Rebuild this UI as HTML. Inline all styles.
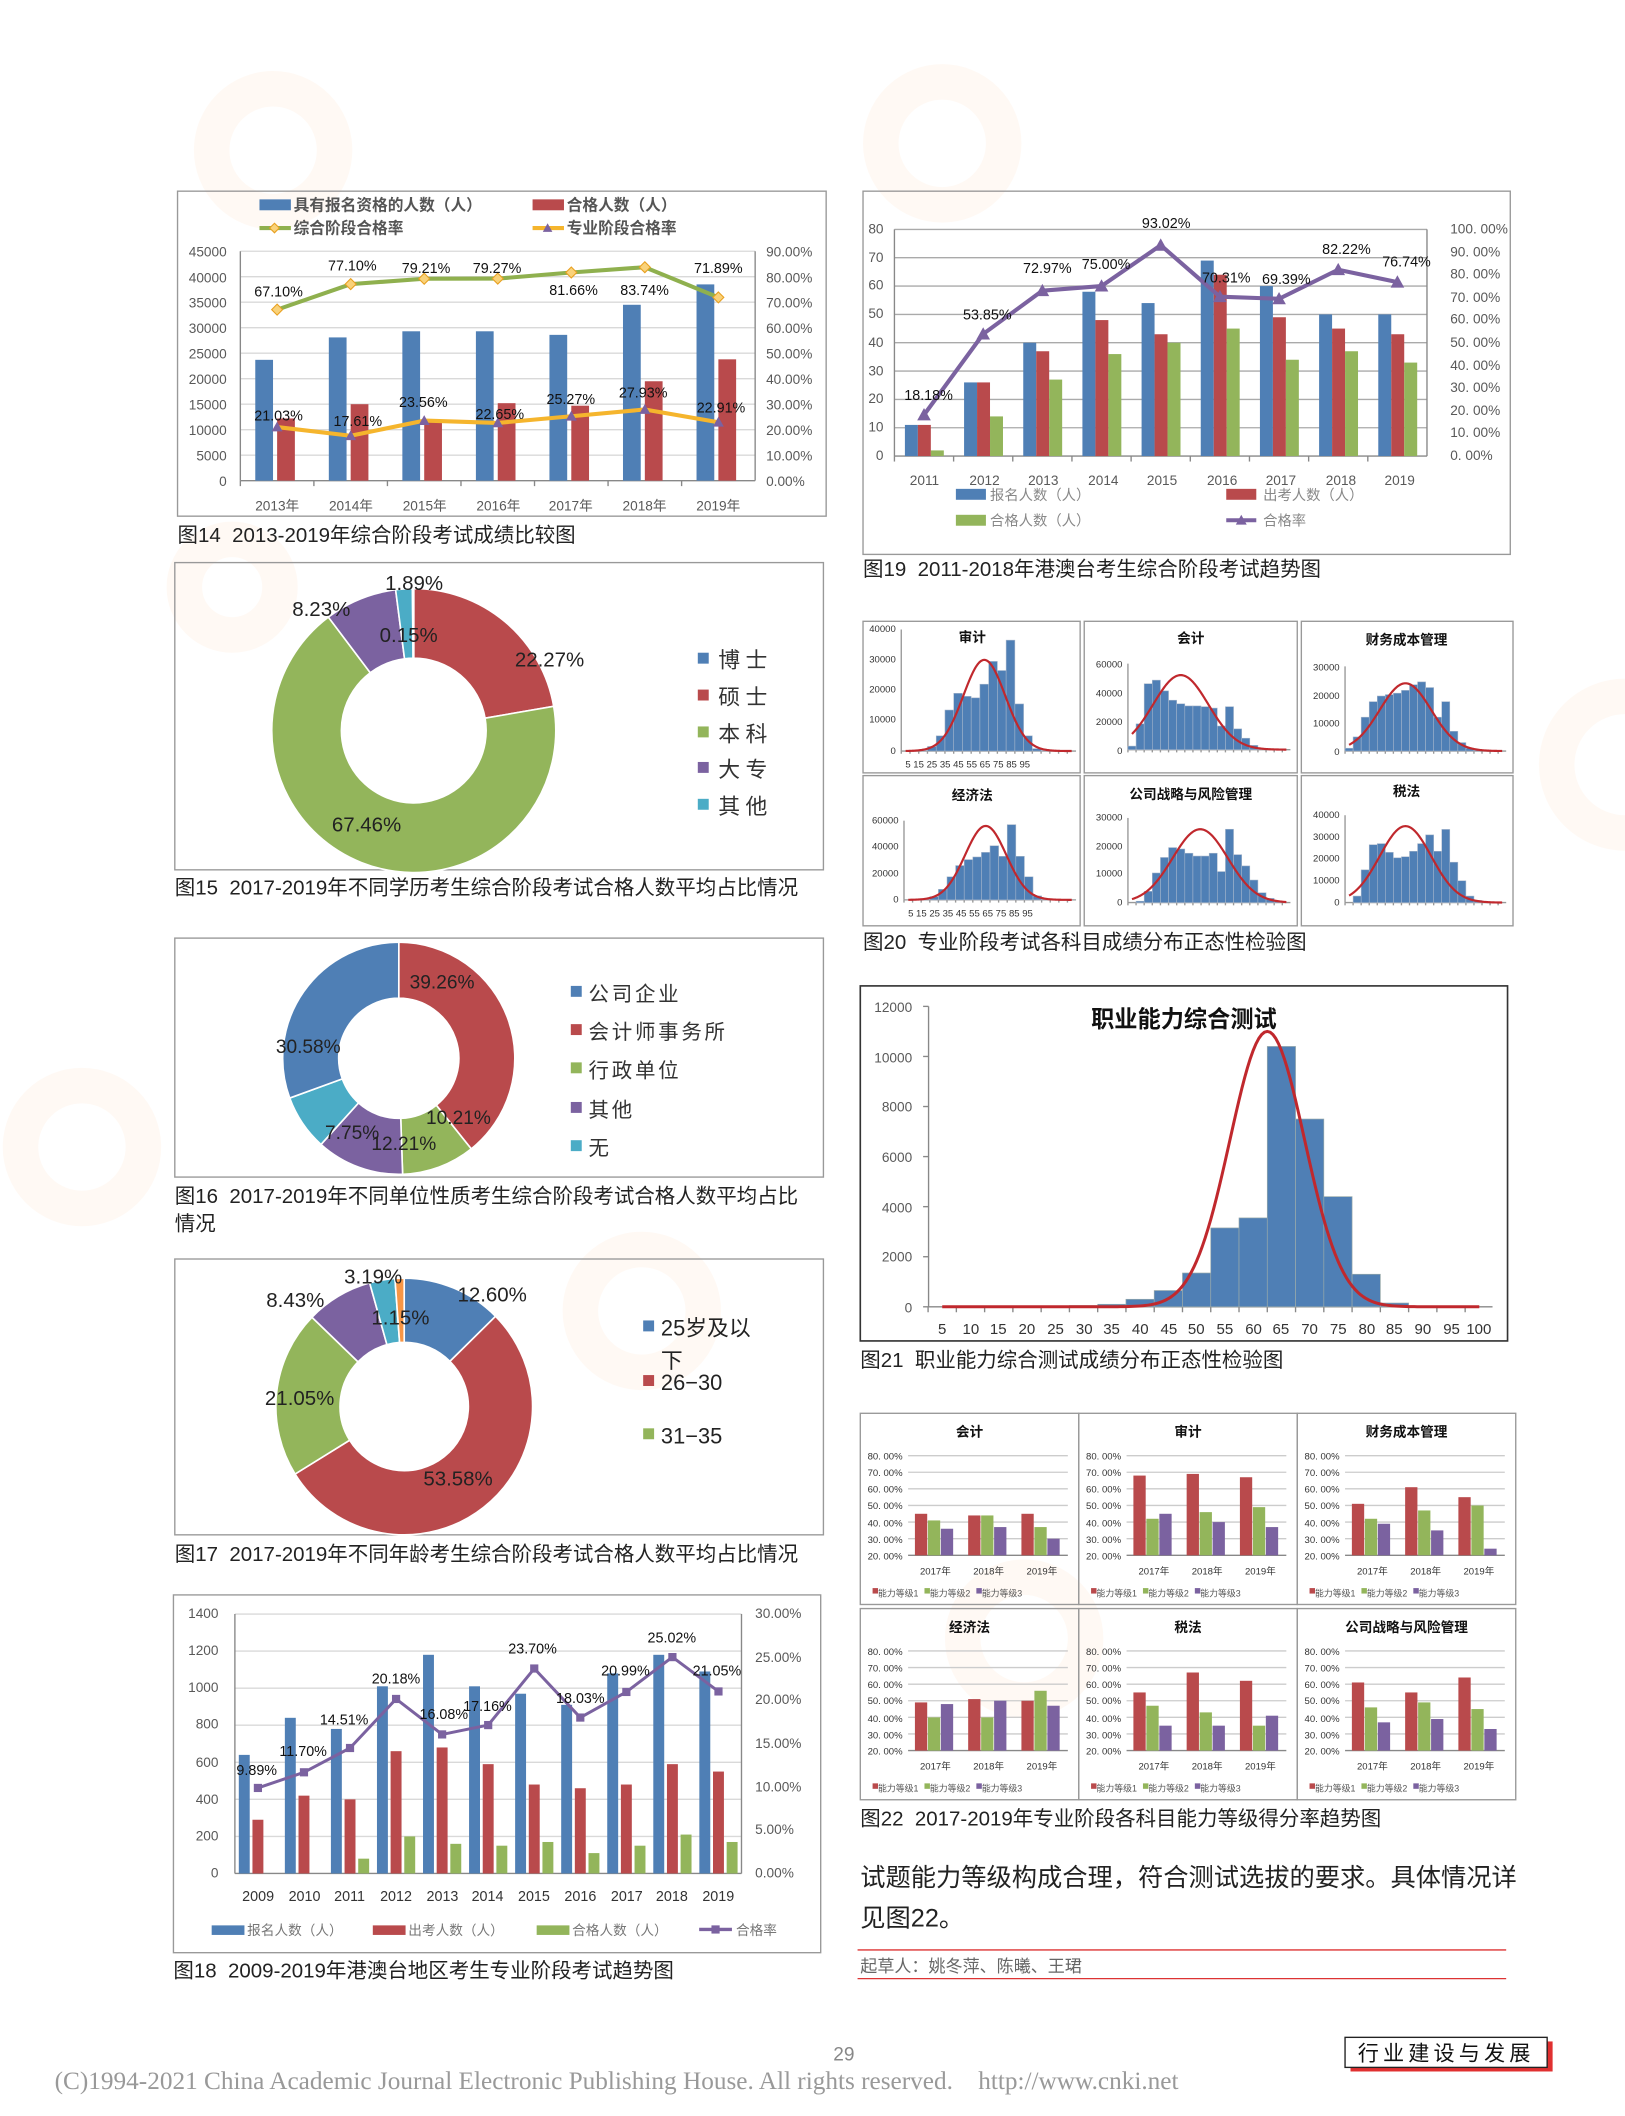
<!DOCTYPE html>
<html><head><meta charset="utf-8">
<style>
html,body{margin:0;padding:0;background:#fff;}
svg{display:block;}
text{font-family:"Liberation Sans","Noto Sans CJK SC",sans-serif;}
.t{font-size:10px;fill:#595959;}
.cap{font-size:15px;fill:#222;font-family:"Liberation Sans","Noto Sans CJK SC",sans-serif;white-space:pre;}
.lb{font-size:10.5px;fill:#111;}
.sm{font-size:7px;fill:#333;}
.ti{font-size:10px;font-weight:bold;fill:#111;font-family:"Noto Serif CJK SC","Noto Sans CJK SC",sans-serif;}
.srf{font-family:"Noto Serif CJK SC","Noto Sans CJK SC",serif;}
</style></head><body>
<svg id="s" xmlns="http://www.w3.org/2000/svg" width="1625" height="2116" viewBox="0 0 1190 1549.6">
<g opacity="0.06" fill="none" stroke="#f79646" stroke-width="26">
<circle cx="200" cy="110" r="45"/><circle cx="690" cy="105" r="45"/><circle cx="470" cy="960" r="45"/><circle cx="170" cy="430" r="35"/><circle cx="1190" cy="560" r="50"/><circle cx="60" cy="840" r="45"/><circle cx="750" cy="1200" r="45"/>
</g>
<g fill="none" stroke="#999" stroke-width="1">
<rect x="130" y="140" width="475" height="238"/>
<rect x="128" y="412" width="475" height="225"/>
<rect x="128" y="687" width="475" height="175"/>
<rect x="128" y="922" width="475" height="202"/>
<rect x="127" y="1168" width="474" height="262"/>
<rect x="632" y="140" width="474" height="266"/>
<rect x="632" y="455" width="159" height="111"/><rect x="794" y="455" width="156" height="111"/><rect x="953" y="455" width="155" height="111"/>
<rect x="632" y="568" width="159" height="110"/><rect x="794" y="568" width="156" height="110"/><rect x="953" y="568" width="155" height="110"/>
<rect x="630" y="1035" width="160" height="140"/><rect x="790" y="1035" width="160" height="140"/><rect x="950" y="1035" width="160" height="140"/>
<rect x="630" y="1178" width="160" height="140"/><rect x="790" y="1178" width="160" height="140"/><rect x="950" y="1178" width="160" height="140"/>
</g>
<rect x="630" y="722" width="474" height="260" fill="none" stroke="#333" stroke-width="1.2"/>
<g id="g"></g>

<g class="t" text-anchor="end">
<text x="166" y="356">0</text><text x="166" y="337.3">5000</text><text x="166" y="318.7">10000</text><text x="166" y="300">15000</text><text x="166" y="281.3">20000</text><text x="166" y="262.7">25000</text><text x="166" y="244">30000</text><text x="166" y="225.3">35000</text><text x="166" y="206.7">40000</text><text x="166" y="188">45000</text>
</g>
<g class="t">
<text x="561" y="356">0.00%</text><text x="561" y="337.3">10.00%</text><text x="561" y="318.7">20.00%</text><text x="561" y="300">30.00%</text><text x="561" y="281.3">40.00%</text><text x="561" y="262.7">50.00%</text><text x="561" y="244">60.00%</text><text x="561" y="225.3">70.00%</text><text x="561" y="206.7">80.00%</text><text x="561" y="188">90.00%</text>
</g>
<g class="t" text-anchor="middle" fill="#777">
<text x="203" y="374">2013年</text><text x="257" y="374">2014年</text><text x="311" y="374">2015年</text><text x="365" y="374">2016年</text><text x="418" y="374">2017年</text><text x="472" y="374">2018年</text><text x="526" y="374">2019年</text>
</g>
<g class="lb" text-anchor="middle">
<text x="204" y="217">67.10%</text><text x="258" y="198">77.10%</text><text x="312" y="200">79.21%</text><text x="364" y="200">79.27%</text><text x="420" y="216">81.66%</text><text x="472" y="216">83.74%</text><text x="526" y="200">71.89%</text>
<text x="204" y="308">21.03%</text><text x="262" y="312">17.61%</text><text x="310" y="298">23.56%</text><text x="366" y="307">22.65%</text><text x="418" y="296">25.27%</text><text x="471" y="291">27.93%</text><text x="528" y="302">22.91%</text>
</g>
<g class="srf" font-size="11.5" font-weight="bold" fill="#555">
<text x="215" y="154">具有报名资格的人数（人）</text><text x="415" y="154">合格人数（人）</text>
<text x="215" y="171">综合阶段合格率</text><text x="415" y="171">专业阶段合格率</text>
</g>
<text class="cap" x="130" y="397">图14  2013-2019年综合阶段考试成绩比较图</text>

<g font-size="15" fill="#222">
<text x="282" y="432">1.89%</text><text x="214" y="451">8.23%</text><text x="278" y="470">0.15%</text><text x="377" y="488">22.27%</text><text x="243" y="609">67.46%</text>
</g>
<g class="srf" font-size="16" fill="#333" letter-spacing="4">
<text x="526" y="489">博士</text><text x="526" y="516">硕士</text><text x="526" y="543">本科</text><text x="526" y="569">大专</text><text x="526" y="596">其他</text>
</g>
<text class="cap" x="128" y="655">图15  2017-2019年不同学历考生综合阶段考试合格人数平均占比情况</text>

<g font-size="14" fill="#222">
<text x="300" y="724">39.26%</text><text x="202" y="771">30.58%</text><text x="312" y="823">10.21%</text><text x="238" y="834">7.75%</text><text x="272" y="842">12.21%</text>
</g>
<g class="srf" font-size="15" fill="#333" letter-spacing="2">
<text x="431" y="733">公司企业</text><text x="431" y="761">会计师事务所</text><text x="431" y="789">行政单位</text><text x="431" y="818">其他</text><text x="431" y="846">无</text>
</g>
<text class="cap" x="128" y="881">图16  2017-2019年不同单位性质考生综合阶段考试合格人数平均占比</text>
<text class="cap" x="128" y="901">情况</text>

<g font-size="15" fill="#222">
<text x="252" y="940">3.19%</text><text x="195" y="957">8.43%</text><text x="335" y="953">12.60%</text><text x="272" y="970">1.15%</text><text x="194" y="1029">21.05%</text><text x="310" y="1088">53.58%</text>
</g>
<g font-size="16" fill="#222">
<text x="484" y="978">25岁及以</text><text x="484" y="1002">下</text><text x="484" y="1018">26−30</text><text x="484" y="1057">31−35</text>
</g>
<text class="cap" x="128" y="1143">图17  2017-2019年不同年龄考生综合阶段考试合格人数平均占比情况</text>

<g class="t" text-anchor="end">
<text x="160" y="1375">0</text><text x="160" y="1348">200</text><text x="160" y="1321">400</text><text x="160" y="1294">600</text><text x="160" y="1266">800</text><text x="160" y="1239">1000</text><text x="160" y="1212">1200</text><text x="160" y="1185">1400</text>
</g>
<g class="t">
<text x="553" y="1375">0.00%</text><text x="553" y="1343">5.00%</text><text x="553" y="1312">10.00%</text><text x="553" y="1280">15.00%</text><text x="553" y="1248">20.00%</text><text x="553" y="1217">25.00%</text><text x="553" y="1185">30.00%</text>
</g>
<g font-size="10.5" fill="#333" text-anchor="middle">
<text x="189" y="1392">2009</text><text x="223" y="1392">2010</text><text x="256" y="1392">2011</text><text x="290" y="1392">2012</text><text x="324" y="1392">2013</text><text x="357" y="1392">2014</text><text x="391" y="1392">2015</text><text x="425" y="1392">2016</text><text x="459" y="1392">2017</text><text x="492" y="1392">2018</text><text x="526" y="1392">2019</text>
</g>
<g class="lb" text-anchor="middle">
<text x="188" y="1300">9.89%</text><text x="222" y="1286">11.70%</text><text x="252" y="1263">14.51%</text><text x="290" y="1233">20.18%</text><text x="325" y="1259">16.08%</text><text x="357" y="1253">17.16%</text><text x="390" y="1211">23.70%</text><text x="425" y="1247">18.03%</text><text x="458" y="1227">20.99%</text><text x="492" y="1203">25.02%</text><text x="525" y="1227">21.05%</text>
</g>
<g class="srf" font-size="10" fill="#777">
<text x="181" y="1417">报名人数（人）</text><text x="299" y="1417">出考人数（人）</text><text x="419" y="1417">合格人数（人）</text><text x="539" y="1417">合格率</text>
</g>
<text class="cap" x="127" y="1448">图18  2009-2019年港澳台地区考生专业阶段考试趋势图</text>

<g class="t" text-anchor="end">
<text x="647" y="337">0</text><text x="647" y="316">10</text><text x="647" y="295">20</text><text x="647" y="275">30</text><text x="647" y="254">40</text><text x="647" y="233">50</text><text x="647" y="212">60</text><text x="647" y="192">70</text><text x="647" y="171">80</text>
</g>
<g class="t">
<text x="1062" y="337">0. 00%</text><text x="1062" y="320">10. 00%</text><text x="1062" y="304">20. 00%</text><text x="1062" y="287">30. 00%</text><text x="1062" y="271">40. 00%</text><text x="1062" y="254">50. 00%</text><text x="1062" y="237">60. 00%</text><text x="1062" y="221">70. 00%</text><text x="1062" y="204">80. 00%</text><text x="1062" y="188">90. 00%</text><text x="1062" y="171">100. 00%</text>
</g>
<g class="t" text-anchor="middle" fill="#777" font-size="10.5">
<text x="677" y="355">2011</text><text x="721" y="355">2012</text><text x="764" y="355">2013</text><text x="808" y="355">2014</text><text x="851" y="355">2015</text><text x="895" y="355">2016</text><text x="938" y="355">2017</text><text x="982" y="355">2018</text><text x="1025" y="355">2019</text>
</g>
<g class="lb" text-anchor="middle">
<text x="680" y="293">18.18%</text><text x="723" y="234">53.85%</text><text x="767" y="200">72.97%</text><text x="810" y="197">75.00%</text><text x="854" y="167">93.02%</text><text x="898" y="207">70.31%</text><text x="942" y="208">69.39%</text><text x="986" y="186">82.22%</text><text x="1030" y="195">76.74%</text>
</g>
<g class="srf" font-size="10.5" fill="#888">
<text x="725" y="366">报名人数（人）</text><text x="925" y="366">出考人数（人）</text><text x="725" y="385">合格人数（人）</text><text x="925" y="385">合格率</text>
</g>
<text class="cap" x="632" y="422">图19  2011-2018年港澳台考生综合阶段考试趋势图</text>

<g class="ti" text-anchor="middle">
<text x="712" y="470">审计</text><text x="872" y="471">会计</text><text x="1030" y="472">财务成本管理</text>
<text x="712" y="586">经济法</text><text x="872" y="585">公司战略与风险管理</text><text x="1030" y="583">税法</text>
</g>
<g class="sm" text-anchor="end">
<text x="656" y="463">40000</text><text x="656" y="485">30000</text><text x="656" y="507">20000</text><text x="656" y="529">10000</text><text x="656" y="552">0</text>
<text x="822" y="489">60000</text><text x="822" y="510">40000</text><text x="822" y="531">20000</text><text x="822" y="552">0</text>
<text x="981" y="491">30000</text><text x="981" y="512">20000</text><text x="981" y="532">10000</text><text x="981" y="553">0</text>
<text x="658" y="603">60000</text><text x="658" y="622">40000</text><text x="658" y="642">20000</text><text x="658" y="661">0</text>
<text x="822" y="601">30000</text><text x="822" y="622">20000</text><text x="822" y="642">10000</text><text x="822" y="663">0</text>
<text x="981" y="599">40000</text><text x="981" y="615">30000</text><text x="981" y="631">20000</text><text x="981" y="647">10000</text><text x="981" y="663">0</text>
</g>
<g class="sm" xml:space="preserve">
<text x="663" y="562">5  15  25  35  45  55  65  75  85  95</text>
<text x="665" y="671">5  15  25  35  45  55  65  75  85  95</text>
</g>
<text class="cap" x="632" y="695">图20  专业阶段考试各科目成绩分布正态性检验图</text>

<text x="867" y="752" text-anchor="middle" font-size="17" font-weight="bold" fill="#111">职业能力综合测试</text>
<g class="t" font-size="11" fill="#333" text-anchor="end">
<text x="668" y="961">0</text><text x="668" y="924">2000</text><text x="668" y="888">4000</text><text x="668" y="851">6000</text><text x="668" y="814">8000</text><text x="668" y="778">10000</text><text x="668" y="741">12000</text>
</g>
<g font-size="11" fill="#333" text-anchor="middle">
<text x="690" y="977">5</text><text x="711" y="977">10</text><text x="731" y="977">15</text><text x="752" y="977">20</text><text x="773" y="977">25</text><text x="794" y="977">30</text><text x="814" y="977">35</text><text x="835" y="977">40</text><text x="856" y="977">45</text><text x="876" y="977">50</text><text x="897" y="977">55</text><text x="918" y="977">60</text><text x="938" y="977">65</text><text x="959" y="977">70</text><text x="980" y="977">75</text><text x="1001" y="977">80</text><text x="1021" y="977">85</text><text x="1042" y="977">90</text><text x="1063" y="977">95</text><text x="1083" y="977">100</text>
</g>
<text class="cap" x="630" y="1001">图21  职业能力综合测试成绩分布正态性检验图</text>

<g class="ti" font-size="9" text-anchor="middle">
<text x="710" y="1052">会计</text><text x="870" y="1052">审计</text><text x="1030" y="1052">财务成本管理</text>
<text x="710" y="1195">经济法</text><text x="870" y="1195">税法</text><text x="1030" y="1195">公司战略与风险管理</text>
</g>
<g font-size="7" fill="#333" text-anchor="end">
<text x="661" y="1069">80. 00%</text><text x="661" y="1081">70. 00%</text><text x="661" y="1093">60. 00%</text><text x="661" y="1105">50. 00%</text><text x="661" y="1118">40. 00%</text><text x="661" y="1130">30. 00%</text><text x="661" y="1142">20. 00%</text>
<text x="821" y="1069">80. 00%</text><text x="821" y="1081">70. 00%</text><text x="821" y="1093">60. 00%</text><text x="821" y="1105">50. 00%</text><text x="821" y="1118">40. 00%</text><text x="821" y="1130">30. 00%</text><text x="821" y="1142">20. 00%</text>
<text x="981" y="1069">80. 00%</text><text x="981" y="1081">70. 00%</text><text x="981" y="1093">60. 00%</text><text x="981" y="1105">50. 00%</text><text x="981" y="1118">40. 00%</text><text x="981" y="1130">30. 00%</text><text x="981" y="1142">20. 00%</text>
<text x="661" y="1212">80. 00%</text><text x="661" y="1224">70. 00%</text><text x="661" y="1236">60. 00%</text><text x="661" y="1248">50. 00%</text><text x="661" y="1261">40. 00%</text><text x="661" y="1273">30. 00%</text><text x="661" y="1285">20. 00%</text>
<text x="821" y="1212">80. 00%</text><text x="821" y="1224">70. 00%</text><text x="821" y="1236">60. 00%</text><text x="821" y="1248">50. 00%</text><text x="821" y="1261">40. 00%</text><text x="821" y="1273">30. 00%</text><text x="821" y="1285">20. 00%</text>
<text x="981" y="1212">80. 00%</text><text x="981" y="1224">70. 00%</text><text x="981" y="1236">60. 00%</text><text x="981" y="1248">50. 00%</text><text x="981" y="1261">40. 00%</text><text x="981" y="1273">30. 00%</text><text x="981" y="1285">20. 00%</text>
</g>
<g font-size="7" fill="#333" text-anchor="middle">
<text x="685" y="1153">2017年</text><text x="724" y="1153">2018年</text><text x="763" y="1153">2019年</text>
<text x="845" y="1153">2017年</text><text x="884" y="1153">2018年</text><text x="923" y="1153">2019年</text>
<text x="1005" y="1153">2017年</text><text x="1044" y="1153">2018年</text><text x="1083" y="1153">2019年</text>
<text x="685" y="1296">2017年</text><text x="724" y="1296">2018年</text><text x="763" y="1296">2019年</text>
<text x="845" y="1296">2017年</text><text x="884" y="1296">2018年</text><text x="923" y="1296">2019年</text>
<text x="1005" y="1296">2017年</text><text x="1044" y="1296">2018年</text><text x="1083" y="1296">2019年</text>
</g>
<g font-size="6.5" fill="#555" class="srf">
<text x="643" y="1169">能力等级1</text><text x="681" y="1169">能力等级2</text><text x="719" y="1169">能力等级3</text>
<text x="803" y="1169">能力等级1</text><text x="841" y="1169">能力等级2</text><text x="879" y="1169">能力等级3</text>
<text x="963" y="1169">能力等级1</text><text x="1001" y="1169">能力等级2</text><text x="1039" y="1169">能力等级3</text>
<text x="643" y="1312">能力等级1</text><text x="681" y="1312">能力等级2</text><text x="719" y="1312">能力等级3</text>
<text x="803" y="1312">能力等级1</text><text x="841" y="1312">能力等级2</text><text x="879" y="1312">能力等级3</text>
<text x="963" y="1312">能力等级1</text><text x="1001" y="1312">能力等级2</text><text x="1039" y="1312">能力等级3</text>
</g>
<text class="cap" x="630" y="1337">图22  2017-2019年专业阶段各科目能力等级得分率趋势图</text>

<text x="630" y="1381" font-size="18.5" fill="#222">试题能力等级构成合理，符合测试选拔的要求。具体情况详</text>
<text x="630" y="1411" font-size="18.5" fill="#222">见图22。</text>
<line x1="628" y1="1428" x2="1103" y2="1428" stroke="#d33" stroke-width="1"/>
<text x="630" y="1444" font-size="12.5" fill="#666">起草人：姚冬萍、陈曦、王珺</text>
<line x1="628" y1="1449" x2="1103" y2="1449" stroke="#d33" stroke-width="1"/>

<text x="618" y="1509" font-size="14" fill="#888" text-anchor="middle">29</text>
<rect x="989" y="1495" width="148" height="22" fill="#e03030"/>
<rect x="985" y="1492" width="148" height="22" fill="#fff" stroke="#222" stroke-width="1"/>
<text x="1059" y="1509" font-size="15.5" fill="#111" text-anchor="middle" letter-spacing="3">行业建设与发展</text>
<text x="40" y="1530" font-size="18.5" fill="#999" style="font-family:'Liberation Serif',serif;white-space:pre">(C)1994-2021 China Academic Journal Electronic Publishing House. All rights reserved.    http://www.cnki.net</text>
</svg>
<script>
var NS="http://www.w3.org/2000/svg",G=document.getElementById("g");
function el(t,a){var e=document.createElementNS(NS,t);for(var k in a)e.setAttribute(k,a[k]);G.appendChild(e);return e;}
function rect(x,y,w,h,f){el("rect",{x:x,y:y,width:w,height:h,fill:f});}
function line(x1,y1,x2,y2,s,w){el("line",{x1:x1,y1:y1,x2:x2,y2:y2,stroke:s,"stroke-width":w||1});}
function poly(pts,s,w){el("polyline",{points:pts.map(function(p){return p.join(",")}).join(" "),fill:"none",stroke:s,"stroke-width":w,"stroke-linejoin":"round"});}
var B="#4f7fb5",R="#b94a4c",Gr="#93b55b",P="#7b62a0",T="#4bacc6",O="#f79646",GL="#d9d9d9";
function bar(x,y0,yv,w,f){rect(x,Math.min(y0,yv),w,Math.abs(y0-yv),f);}
function tri(x,y,f,s){el("polygon",{points:(x-s)+","+(y+s*0.8)+" "+(x+s)+","+(y+s*0.8)+" "+x+","+(y-s),fill:f});}
function dia(x,y,f,s){el("polygon",{points:x+","+(y-s)+" "+(x+s)+","+y+" "+x+","+(y+s)+" "+(x-s)+","+y,fill:f,stroke:"#e8a020","stroke-width":0.8});}

(function(){var x0=176,x1=553,y0=352,y1=184,i;
for(i=1;i<=9;i++){var y=y0-(y0-y1)*i/9;line(x0,y,x1,y,GL,1);}
line(x0,y0,x1,y0,"#888");line(x0,y0,x0,y1,"#888");line(x1,y0,x1,y1,"#888");
var b=[23700,28100,29300,29300,28600,34500,38500],r=[12200,15000,11500,15200,14700,19500,23800],
g=[67.1,77.1,79.21,79.27,81.66,83.74,71.89],o=[21.03,17.61,23.56,22.65,25.27,27.93,22.91],w=(x1-x0)/7,gp=[],op=[];
for(i=0;i<7;i++){var c=x0+w*(i+.5);line(x0+w*i,y0,x0+w*i,y0+4,"#888");
bar(c-16,y0,y0-b[i]/45000*168,13,B);bar(c,y0,y0-r[i]/45000*168,13,R);
gp.push([c,y0-g[i]/90*168]);op.push([c,y0-o[i]/90*168]);}
poly(gp,"#8fb04e",3);poly(op,"#f5b52d",3);
gp.forEach(function(p){dia(p[0],p[1],"#f9d27a",4);});op.forEach(function(p){tri(p[0],p[1],"#7b62a0",4);});
rect(190,146,23,8,B);rect(390,146,23,8,R);line(190,167,213,167,"#8fb04e",3);dia(201,167,"#f9d27a",3.5);line(390,167,413,167,"#f5b52d",3);tri(401,167,"#7b62a0",3.5);
})();

function donut(cx,cy,R1,r1,sl){var a=-Math.PI/2;sl.forEach(function(s){var a2=a+s[0]/100*2*Math.PI,l=(a2-a)>Math.PI?1:0;
var d="M"+(cx+R1*Math.cos(a))+","+(cy+R1*Math.sin(a))+"A"+R1+","+R1+" 0 "+l+" 1 "+(cx+R1*Math.cos(a2))+","+(cy+R1*Math.sin(a2))+"L"+(cx+r1*Math.cos(a2))+","+(cy+r1*Math.sin(a2))+"A"+r1+","+r1+" 0 "+l+" 0 "+(cx+r1*Math.cos(a))+","+(cy+r1*Math.sin(a))+"Z";
el("path",{d:d,fill:s[1],stroke:"#fff","stroke-width":1.2});a=a2;});}
donut(303,535,104,53,[[22.27,R],[67.46,Gr],[8.23,P],[1.89,T],[0.15,B]]);
donut(292,775,85,44,[[39.26,R],[10.21,Gr],[12.21,P],[7.75,T],[30.58,B]]);
donut(296,1030,94,47,[[12.60,B],[53.58,R],[21.05,Gr],[8.43,P],[3.19,T],[1.15,O]]);
[[B,483],[R,510],[Gr,537],[P,563],[T,590]].forEach(function(s){rect(511,s[1]-5,8,8,s[0]);});
[[B,727],[R,755],[Gr,783],[P,812],[T,840]].forEach(function(s){rect(418,s[1]-5,8,8,s[0]);});
[[B,972],[R,1012],[Gr,1051]].forEach(function(s){rect(471,s[1]-5,8,8,s[0]);});

(function(){var x0=172,x1=543,y0=1372,y1=1182,i;
for(i=1;i<=7;i++){var y=y0-(y0-y1)*i/7;line(x0,y,x1,y,GL,1);}
line(x0,y0,x1,y0,"#888");line(x0,y0,x0,y1,"#888");line(x1,y0,x1,y1,"#888");
var b=[640,840,780,1010,1180,1010,970,910,1080,1180,1090],r=[290,420,400,660,680,590,480,460,480,590,550],g=[0,0,80,200,160,150,170,110,150,210,170],
p=[9.89,11.70,14.51,20.18,16.08,17.16,23.70,18.03,20.99,25.02,21.05],w=(x1-x0)/11,pp=[];
for(i=0;i<11;i++){var c=x0+w*(i+.5);var k=(y0-y1)/1400;
bar(c-14,y0,y0-b[i]*k,8,B);bar(c-4,y0,y0-r[i]*k,8,R);bar(c+6,y0,y0-g[i]*k,8,Gr);pp.push([c,y0-p[i]/30*190]);}
poly(pp,"#7b62a0",2.2);pp.forEach(function(q){el("rect",{x:q[0]-3,y:q[1]-3,width:6,height:6,fill:"#7b62a0"});});
rect(155,1410,24,7,B);rect(273,1410,24,7,R);rect(393,1410,24,7,Gr);line(512,1413,536,1413,"#7b62a0",2.5);rect(521,1410,6,6,"#7b62a0");
})();

(function(){var x0=655,x1=1045,y0=334,y1=168,i;
for(i=1;i<=8;i++){var y=y0-(y0-y1)*i/8;line(x0,y,x1,y,"#aaa",1);}
line(x0,y0,x1,y0,"#888");line(x0,y0,x0,y1,"#888");line(x1,y0,x1,y1,"#888");
var b=[11,26,40,58,54,69,60,50,50],r=[11,26,37,48,43,64,49,45,43],g=[2,14,27,36,40,45,34,37,33],
p=[18.18,53.85,72.97,75.00,93.02,70.31,69.39,82.22,76.74],w=(x1-x0)/9,pp=[],k=(y0-y1)/80;
for(i=0;i<9;i++){var c=x0+w*(i+.5);line(x0+w*i,y0,x0+w*i,y0+4,"#888");
bar(c-14,y0,y0-b[i]*k,9.5,B);bar(c-4.5,y0,y0-r[i]*k,9.5,R);bar(c+5,y0,y0-g[i]*k,9.5,Gr);pp.push([c,y0-p[i]/100*(y0-y1)]);}
poly(pp,"#7b62a0",3);pp.forEach(function(q){tri(q[0],q[1],"#7b62a0",5);});
rect(700,358,22,8,B);rect(898,358,22,8,R);rect(700,377,22,8,Gr);line(898,381,920,381,"#7b62a0",3);tri(909,381,"#7b62a0",4);
})();

function hist(x0,x1,y0,yt,max,data,m,s,pk){var w=(x1-x0)/20,i;
line(x0,y0,x1,y0,"#999");line(x0,y0,x0,yt,"#999");
for(i=0;i<20;i++){line(x0+w*i,y0,x0+w*i,y0+2,"#999");if(data[i]>0){el("rect",{x:x0+w*i,y:y0-data[i]/max*(y0-yt),width:w,height:data[i]/max*(y0-yt),fill:B,stroke:"#a9b8cc","stroke-width":0.4});}}
var pts=[];for(var sc=5;sc<=100;sc+=0.5){var v=pk*Math.exp(-(sc-m)*(sc-m)/(2*s*s));pts.push([x0+((sc-5)/5+0.5)*w,y0-v/max*(y0-yt)]);}
poly(pts,"#c0282d",1.6);}
hist(660,788,550,461,40000,[0,0,200,1500,5000,13500,19000,18000,17500,22000,29500,26500,36500,15500,5000,800,200,0,0,0],50,12,30000);
hist(826,945,549,486,60000,[2500,18000,46000,48500,41000,34500,32000,30500,30500,30000,29000,16500,30000,14500,8000,3000,500,0,0,0],35,17,52000);
hist(985,1103,550,488,30000,[1000,5000,12000,17500,19500,20000,20500,21500,23500,24500,22500,12000,17500,7000,3000,1000,300,0,0,0],40,16,24000);
hist(662,788,659,601,60000,[0,0,500,2500,8000,17500,26000,30500,32500,36000,41000,33000,57000,33000,17500,3000,500,0,0,0],50,12,56000);
hist(826,945,661,599,30000,[0,500,4000,10500,16000,19500,19000,17500,16500,16500,17500,11000,26000,17000,13000,8000,3500,1500,500,0],47,17,26000);
hist(985,1103,661,597,40000,[0,3000,15000,26500,27000,23000,20500,21000,23500,27000,31000,23500,33500,18500,10000,3000,1000,300,0,0],40,16,35000);

(function(){var x0=680,x1=1093,y0=957,yt=737,max=12000,step=20.7,i;
line(x0,y0,x1,y0,"#888");line(x0,y0,x0,yt,"#888");
for(i=0;i<=6;i++)line(x0-4,y0-(y0-yt)*i/6,x0,y0-(y0-yt)*i/6,"#888");
var d=[0,0,0,0,0,50,100,300,650,1350,3150,3550,10400,7500,4400,1300,150,0,0,0];
for(i=0;i<20;i++){var c=690+step*i;line(c-step/2,y0,c-step/2,y0+4,"#888");if(d[i]>0)el("rect",{x:c-step/2,y:y0-d[i]/max*(y0-yt),width:step,height:d[i]/max*(y0-yt),fill:B,stroke:"#9aa","stroke-width":0.5});}
var pts=[];for(var sc=5;sc<=100;sc+=0.5){var v=11000*Math.exp(-(sc-62.5)*(sc-62.5)/(2*6.6*6.6));pts.push([690+(sc-5)/5*step,y0-v/max*(y0-yt)]);}
poly(pts,"#c0282d",2.2);})();

(function(){var data=[[[45,41,36],[44,44,37],[45,37,30]],[[68,42,45],[69,46,40],[67,49,37]],[[51,42,39],[61,47,35],[55,50,24]],
[[49,40,48],[51,40,50],[50,56,47]],[[55,47,35],[67,43,35],[62,35,41]],[[61,46,37],[55,49,39],[64,45,33]]];
var cols=["#b94a4c","#93b55b","#7b62a0"];
for(var p=0;p<6;p++){var ox=630+160*(p%3),oy=p<3?0:143,y80=1066+oy,y20=1139+oy,px0=ox+35,px1=ox+152,k=(y20-y80)/60;
for(var j=0;j<7;j++)line(px0,y80+j*(y20-y80)/6,px1,y80+j*(y20-y80)/6,j==6?"#888":"#ccc",1);
for(var g=0;g<3;g++)for(var b=0;b<3;b++){var v=data[p][g][b];bar(px0+5+g*39+b*9.5,y20,y20-(v-20)*k,9,cols[b]);}
for(var b=0;b<3;b++)rect(ox+9+b*38,1163+oy,4,4,cols[b]);}
})();
</script>
</body></html>
